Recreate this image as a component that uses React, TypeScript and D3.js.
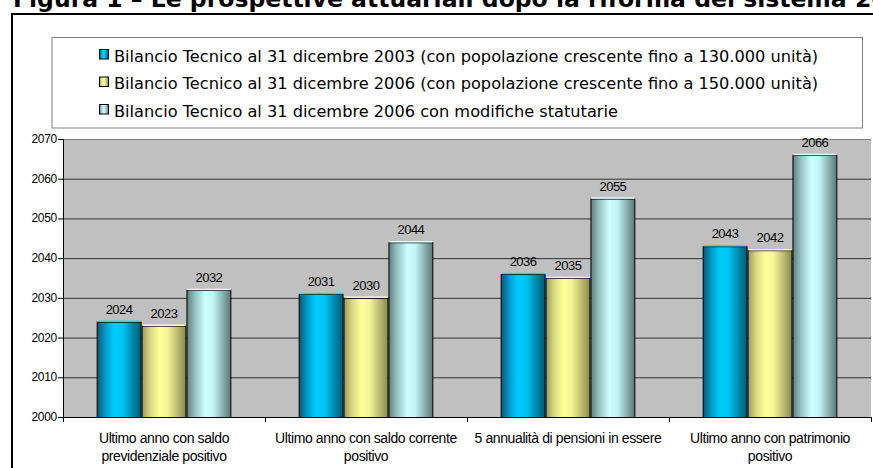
import React from "react";
import * as d3 from "d3";

const categories = [
  "Ultimo anno con saldo\nprevidenziale positivo",
  "Ultimo anno con saldo corrente\npositivo",
  "5 annualità di pensioni in essere",
  "Ultimo anno con patrimonio\npositivo",
];
const seriesNames = [
  "Bilancio Tecnico al 31 dicembre 2003 (con popolazione crescente fino a 130.000 unità)",
  "Bilancio Tecnico al 31 dicembre 2006 (con popolazione crescente fino a 150.000 unità)",
  "Bilancio Tecnico al 31 dicembre 2006 con modifiche statutarie",
];
const bt2003 = [2024, 2031, 2036, 2043];
const bt2006 = [2023, 2030, 2035, 2042];
const bt2006mod = [2032, 2044, 2055, 2066];
const yTicks = [2000, 2010, 2020, 2030, 2040, 2050, 2060, 2070];
const title = "Figura 1 – Le prospettive attuariali dopo la riforma del sistema 2004";

const seriesValues = [bt2003, bt2006, bt2006mod];
const gradients = [
  [["0%", "#005a78"], ["18%", "#0099c8"], ["38%", "#00ccff"], ["58%", "#00c4f2"], ["82%", "#0085a8"], ["100%", "#005a75"]],
  [["0%", "#9a9a5c"], ["18%", "#d8d880"], ["40%", "#ffff99"], ["58%", "#f5f594"], ["82%", "#b8b870"], ["100%", "#8a8a52"]],
  [["0%", "#5e7f7f"], ["18%", "#97c0c0"], ["42%", "#ccffff"], ["60%", "#c2f4f4"], ["84%", "#86a8a8"], ["100%", "#5a7878"]],
];
const capColors = ["#22d8ff", "#ffffb0", "#e0ffff"];

const FONT = "'Liberation Sans', Arial, sans-serif";
const LEGEND_FONT = "'DejaVu Sans', Verdana, sans-serif";

export default function App() {
  const W = 873, H = 468;
  const plotL = 63, plotR = 871, plotT = 139, plotB = 417;
  const x = d3.scaleBand<number>().domain(d3.range(categories.length)).range([plotL, plotR]).padding(0);
  const bw = x.bandwidth();
  const gw = (bw * 3) / 4.5;
  const xs = d3.scaleBand<number>().domain([0, 1, 2]).range([(bw - gw) / 2, (bw + gw) / 2]).padding(0);
  const y = d3.scaleLinear().domain([2000, 2070]).range([plotB, plotT]);

  return (
    <svg width={W} height={H} style={{ position: "fixed", left: 0, top: 0, background: "#fff" }} fontFamily={FONT}>
      <defs>
        {gradients.map((g, i) => (
          <linearGradient key={i} id={`g${i}`} x1="0" x2="1" y1="0" y2="0">
            {g.map(([o, c], j) => (
              <stop key={j} offset={o} stopColor={c} />
            ))}
          </linearGradient>
        ))}
      </defs>
      <text x={13} y={7} fontFamily="'DejaVu Sans', Verdana, sans-serif" fontWeight="bold" fontSize={23.5} fill="#000">
        {title}
      </text>
      <rect x={12} y={14} width={W + 20} height={H + 20} fill="none" stroke="#000" strokeWidth={2} />
      {/* legend */}
      <rect x={52} y={37.5} width={810.5} height={90.5} fill="#fff" stroke="#808080" strokeWidth={1} />
      {seriesNames.map((s, i) => (
        <g key={i} transform={`translate(0, ${61.5 + i * 27.5})`}>
          <rect x={99.5} y={-12} width={9} height={9.5} fill={`url(#g${i})`} stroke="#000" strokeWidth={1} />
          <text x={114} y={0} fontSize={16.2} fontFamily={LEGEND_FONT} fill="#000" letterSpacing={0}>
            {s}
          </text>
        </g>
      ))}
      {/* plot area */}
      <rect x={plotL} y={plotT} width={plotR - plotL} height={plotB - plotT} fill="#c0c0c0" />
      {yTicks.map((t) => (
        <g key={t}>
          {t !== 2000 && (
            <line x1={plotL} x2={plotR} y1={y(t) + 0.5} y2={y(t) + 0.5} stroke={t === 2070 ? "#808080" : "#333"} strokeWidth={1} />
          )}
          <line x1={plotL - 5} x2={plotL} y1={y(t) + 0.5} y2={y(t) + 0.5} stroke="#000" />
          <text x={57} y={y(t) + 4} fontSize={12} textAnchor="end" fill="#000" letterSpacing={-0.3}>
            {t}
          </text>
        </g>
      ))}
      {/* bars */}
      {categories.map((c, ci) => (
        <g key={ci}>
          {seriesValues.map((vals, si) => {
            const bx = x(ci)! + xs(si)!;
            const by = y(vals[ci]);
            const bwid = xs.bandwidth();
            return (
              <g key={si}>
                <rect x={bx + 0.5} y={by + 0.5} width={bwid - 1} height={plotB - by} fill={`url(#g${si})`} stroke="#000" strokeWidth={1} />
                <line x1={bx + 1} x2={bx + bwid - 1} y1={by - 0.5} y2={by - 0.5} stroke={capColors[si]} strokeWidth={1.5} />
                <text x={bx + bwid / 2} y={by - 8} fontSize={13} textAnchor="middle" fill="#000" letterSpacing={-0.5}>
                  {vals[ci]}
                </text>
              </g>
            );
          })}
        </g>
      ))}
      {/* axes */}
      <line x1={plotL + 0.5} x2={plotL + 0.5} y1={plotT} y2={plotB} stroke="#000" />
      <line x1={plotL} x2={plotR + 1} y1={plotB + 0.5} y2={plotB + 0.5} stroke="#000" />
      {d3.range(categories.length + 1).map((i) => {
        const tx = plotL + i * bw;
        return <line key={i} x1={tx + 0.5} x2={tx + 0.5} y1={plotB} y2={plotB + 5} stroke="#000" />;
      })}
      {categories.map((c, ci) => (
        <text key={ci} x={x(ci)! + bw / 2} y={443} fontSize={14} textAnchor="middle" fill="#000" letterSpacing={-0.4}>
          {c.split("\n").map((ln, li) => (
            <tspan key={li} x={x(ci)! + bw / 2} dy={li === 0 ? 0 : 17.5}>
              {ln}
            </tspan>
          ))}
        </text>
      ))}
    </svg>
  );
}
